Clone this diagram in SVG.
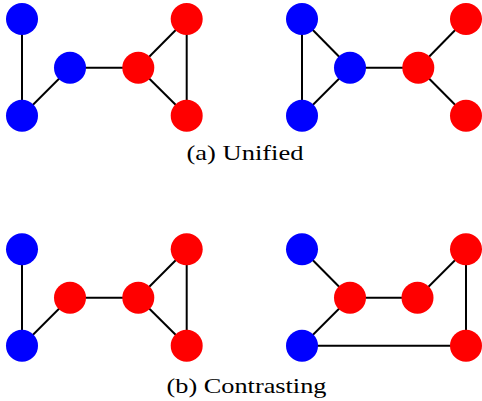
<svg xmlns="http://www.w3.org/2000/svg" width="482" height="401" viewBox="0 0 482 401">
<style>
.b{fill:#0000ff}
.r{fill:#ff0000}
.e{stroke:#000;stroke-width:2;fill:none}
</style>
<rect width="482" height="401" fill="#fff"/>
<g id="connectors" class="e">
<line x1="22" y1="19" x2="22" y2="115.7"/>
<line x1="22" y1="115.7" x2="70" y2="67.7"/>
<line x1="70" y1="67.7" x2="138.3" y2="67.7"/>
<line x1="138.3" y1="67.7" x2="186.7" y2="19"/>
<line x1="138.3" y1="67.7" x2="186.7" y2="115.7"/>
<line x1="186.7" y1="19" x2="186.7" y2="115.7"/>
<line x1="302" y1="19" x2="302" y2="115.7"/>
<line x1="302" y1="19" x2="350" y2="67.7"/>
<line x1="302" y1="115.7" x2="350" y2="67.7"/>
<line x1="350" y1="67.7" x2="418.3" y2="67.7"/>
<line x1="418.3" y1="67.7" x2="466" y2="19"/>
<line x1="418.3" y1="67.7" x2="466" y2="115.7"/>
<line x1="22" y1="249.3" x2="22" y2="345.7"/>
<line x1="22" y1="345.7" x2="70" y2="297.7"/>
<line x1="70" y1="297.7" x2="138.3" y2="297.7"/>
<line x1="138.3" y1="297.7" x2="186.7" y2="249.3"/>
<line x1="138.3" y1="297.7" x2="186.7" y2="345.7"/>
<line x1="186.7" y1="249.3" x2="186.7" y2="345.7"/>
<line x1="302" y1="249.3" x2="350" y2="297.7"/>
<line x1="302" y1="345.7" x2="350" y2="297.7"/>
<line x1="350" y1="297.7" x2="417.5" y2="297.7"/>
<line x1="417.5" y1="297.7" x2="466" y2="249.3"/>
<line x1="466" y1="249.3" x2="466" y2="345.7"/>
<line x1="302" y1="345.7" x2="466" y2="345.7"/>
</g>
<g id="a1"><circle class="b" cx="22" cy="19" r="16"/></g>
<g id="a2"><circle class="b" cx="22" cy="115.7" r="16"/></g>
<g id="a3"><circle class="b" cx="70" cy="67.7" r="16"/></g>
<g id="a4"><circle class="r" cx="138.3" cy="67.7" r="16"/></g>
<g id="a5"><circle class="r" cx="186.7" cy="19" r="16"/></g>
<g id="a6"><circle class="r" cx="186.7" cy="115.7" r="16"/></g>
<g id="b1"><circle class="b" cx="302" cy="19" r="16"/></g>
<g id="b2"><circle class="b" cx="302" cy="115.7" r="16"/></g>
<g id="b3"><circle class="b" cx="350" cy="67.7" r="16"/></g>
<g id="b4"><circle class="r" cx="418.3" cy="67.7" r="16"/></g>
<g id="b5"><circle class="r" cx="466" cy="19" r="16"/></g>
<g id="b6"><circle class="r" cx="466" cy="115.7" r="16"/></g>
<g id="c1"><circle class="b" cx="22" cy="249.3" r="16"/></g>
<g id="c2"><circle class="b" cx="22" cy="345.7" r="16"/></g>
<g id="c3"><circle class="r" cx="70" cy="297.7" r="16"/></g>
<g id="c4"><circle class="r" cx="138.3" cy="297.7" r="16"/></g>
<g id="c5"><circle class="r" cx="186.7" cy="249.3" r="16"/></g>
<g id="c6"><circle class="r" cx="186.7" cy="345.7" r="16"/></g>
<g id="d1"><circle class="b" cx="302" cy="249.3" r="16"/></g>
<g id="d2"><circle class="b" cx="302" cy="345.7" r="16"/></g>
<g id="d3"><circle class="r" cx="350" cy="297.7" r="16"/></g>
<g id="d4"><circle class="r" cx="417.5" cy="297.7" r="16"/></g>
<g id="d5"><circle class="r" cx="466" cy="249.3" r="16"/></g>
<g id="d6"><circle class="r" cx="466" cy="345.7" r="16"/></g>
<text font-family="'Liberation Serif', 'DejaVu Serif', serif" font-size="22" fill="#000" x="186.5" y="160" textLength="117" lengthAdjust="spacingAndGlyphs">(a) Unified</text>
<text font-family="'Liberation Serif', 'DejaVu Serif', serif" font-size="22" fill="#000" x="166.5" y="392.5" textLength="160" lengthAdjust="spacingAndGlyphs">(b) Contrasting</text>
</svg>
